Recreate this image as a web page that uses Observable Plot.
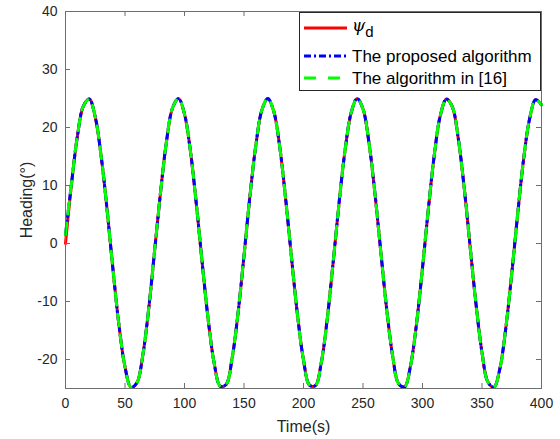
<!DOCTYPE html>
<html>
<head>
<meta charset="utf-8">
<script src="https://cdn.jsdelivr.net/npm/d3@7"></script>
<script src="https://cdn.jsdelivr.net/npm/@observablehq/plot@0.6"></script>
<style>
  html, body { margin: 0; padding: 0; background: white; }
  #chart { width: 560px; height: 439px; }
</style>
</head>
<body>
<div id="chart"></div>
<script>
const time = [0,5,10,15,20,25,30,35,40,45,50,55,60,65,70,75,80,85,90,95,100,105,110,115,120,125,130,135,140,145,150,155,160,165,170,175,180,185,190,195,200,205,210,215,220,225,230,235,240,245,250,255,260,265,270,275,280,285,290,295,300,305,310,315,320,325,330,335,340,345,350,355,360,365,370,375,380,385,390,395,400];
const psiD = [0,10.1,18.5,23.7,24.9,21.8,15.0,5.7,-4.7,-14.2,-21.3,-24.8,-24.0,-19.2,-11.1,-1.0,9.1,17.8,23.4,25.0,22.3,15.9,6.7,-3.6,-13.3,-20.7,-24.6,-24.3,-19.8,-12.0,-2.1,8.2,17.0,23.0,25.0,22.8,16.7,7.7,-2.6,-12.4,-20.1,-24.4,-24.5,-20.5,-12.9,-3.1,7.2,16.2,22.5,25.0,23.2,17.4,8.7,-1.5,-11.5,-19.5,-24.2,-24.7,-21.0,-13.8,-4.2,6.1,15.4,22.1,24.9,23.6,18.2,9.7,-0.5,-10.5,-18.8,-23.9,-24.8,-21.6,-14.6,-5.2,5.1,14.6,21.5,24.8,23.9];
const proposed = [1.5,10.3,18.5,23.7,24.9,21.8,15.0,5.7,-4.7,-14.2,-21.3,-24.8,-24.0,-19.2,-11.1,-1.0,9.1,17.8,23.4,25.0,22.3,15.9,6.7,-3.6,-13.3,-20.7,-24.6,-24.3,-19.8,-12.0,-2.1,8.2,17.0,23.0,25.0,22.8,16.7,7.7,-2.6,-12.4,-20.1,-24.4,-24.5,-20.5,-12.9,-3.1,7.2,16.2,22.5,25.0,23.2,17.4,8.7,-1.5,-11.5,-19.5,-24.2,-24.7,-21.0,-13.8,-4.2,6.1,15.4,22.1,24.9,23.6,18.2,9.7,-0.5,-10.5,-18.8,-23.9,-24.8,-21.6,-14.6,-5.2,5.1,14.6,21.5,24.8,23.9];
const alg16 = [1.5,10.3,18.5,23.7,24.9,21.8,15.0,5.7,-4.7,-14.2,-21.3,-24.8,-24.0,-19.2,-11.1,-1.0,9.1,17.8,23.4,25.0,22.3,15.9,6.7,-3.6,-13.3,-20.7,-24.6,-24.3,-19.8,-12.0,-2.1,8.2,17.0,23.0,25.0,22.8,16.7,7.7,-2.6,-12.4,-20.1,-24.4,-24.5,-20.5,-12.9,-3.1,7.2,16.2,22.5,25.0,23.2,17.4,8.7,-1.5,-11.5,-19.5,-24.2,-24.7,-21.0,-13.8,-4.2,6.1,15.4,22.1,24.9,23.6,18.2,9.7,-0.5,-10.5,-18.8,-23.9,-24.8,-21.6,-14.6,-5.2,5.1,14.6,21.5,24.8,23.9];
const xTicks = [0,50,100,150,200,250,300,350,400];
const yTicks = [-20,-10,0,10,20,30,40];
const seriesNames = ["The proposed algorithm","The algorithm in [16]"];

const idx = time.map((_, i) => i);
const axisColor = "#6e6e6e";
const W = 560, H = 439, mL = 65, mR = 19, mT = 11, mB = 51;
const pw = W - mL - mR, ph = H - mT - mB;

const chart = Plot.plot({
  width: W, height: H,
  marginLeft: mL, marginRight: mR, marginTop: mT, marginBottom: mB,
  style: {fontFamily: "'Liberation Sans', Arial, sans-serif", fontSize: "14px", color: "#262626", background: "white", overflow: "visible"},
  x: {domain: [0, 400]},
  y: {domain: [-25, 40]},
  marks: [
    Plot.line(idx, {x: i => time[i], y: i => psiD[i], stroke: "#ff0000", strokeWidth: 3, curve: "catmull-rom"}),
    Plot.line(idx, {x: i => time[i], y: i => proposed[i], stroke: "#0000ff", strokeWidth: 3, strokeDasharray: "8,4,2,4", curve: "catmull-rom"}),
    Plot.line(idx, {x: i => time[i], y: i => alg16[i], stroke: "#00ff00", strokeWidth: 3, strokeDasharray: "12,9", curve: "catmull-rom"}),
    Plot.frame({stroke: axisColor}),
    Plot.tickX(xTicks, {x: d => d, insetTop: ph - 5, stroke: axisColor}),
    Plot.tickX(xTicks, {x: d => d, insetBottom: ph - 5, stroke: axisColor}),
    Plot.tickY(yTicks, {y: d => d, insetRight: pw - 5, stroke: axisColor}),
    Plot.tickY(yTicks, {y: d => d, insetLeft: pw - 5, stroke: axisColor}),
    Plot.axisX({ticks: xTicks, tickSize: 0, tickPadding: 10, tickFormat: d => String(d), label: "Time(s)", labelAnchor: "center", labelArrow: "none", labelOffset: 43}),
    Plot.axisY({ticks: yTicks, tickSize: 0, tickPadding: 8, tickFormat: d => String(d), label: "Heading(°)", labelAnchor: "center", labelArrow: "none", labelOffset: 45})
  ]
});

// enlarge axis titles
d3.select(chart).selectAll('g[aria-label="x-axis label"] text, g[aria-label="y-axis label"] text').style("font-size", "16px");

// legend
const svg = d3.select(chart);
const lg = svg.append("g").attr("font-family", "'Liberation Sans', Arial, sans-serif").attr("fill", "#000").attr("text-anchor", "start");
lg.append("rect").attr("x", 299.5).attr("y", 12.5).attr("width", 241).attr("height", 78)
  .attr("fill", "white").attr("stroke", "#262626").attr("stroke-width", 1);
const rows = [
  {y: 28, color: "#ff0000", dash: null},
  {y: 56, color: "#0000ff", dash: "7,3,2,3"},
  {y: 78, color: "#00ff00", dash: "12,12"}
];
rows.forEach(r => {
  const l = lg.append("line").attr("x1", 304).attr("x2", 347).attr("y1", r.y).attr("y2", r.y)
    .attr("stroke", r.color).attr("stroke-width", 3);
  if (r.dash) l.attr("stroke-dasharray", r.dash);
});
const t1 = lg.append("text").attr("x", 352).attr("y", 31).attr("font-size", "17px").attr("text-anchor", "start");
t1.append("tspan").attr("font-family", "'DejaVu Serif', serif").attr("font-style", "italic").text("ψ");
t1.append("tspan").attr("dy", 6).attr("font-size", "15px").text("d");
lg.append("text").attr("x", 352).attr("y", 62).attr("font-size", "17px").attr("text-anchor", "start").text(seriesNames[0]);
lg.append("text").attr("x", 352).attr("y", 84).attr("font-size", "17px").attr("text-anchor", "start").text(seriesNames[1]);

document.getElementById("chart").appendChild(chart);
</script>
</body>
</html>
